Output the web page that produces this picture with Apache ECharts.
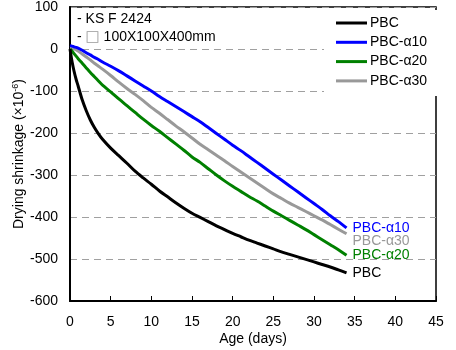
<!DOCTYPE html>
<html>
<head>
<meta charset="utf-8">
<script src="https://cdn.jsdelivr.net/npm/echarts@6/dist/echarts.min.js"></script>
<style>html,body{margin:0;padding:0;background:#fff}#c{width:456px;height:350px}</style>
</head>
<body>
<div id="c"></div>
<script>
var days   = [0,0.25,0.5,0.75,1,1.5,2,2.5,3,3.5,4,5,6,7,8,9,10,11,12,13,14,15,16,17,18,19,20,21,22,23,24,25,26,27,28,29,30,31,32,33,34];
var pbc    = [0,-30,-53,-72,-88,-121,-147,-169,-187,-202,-215,-236,-254,-272,-291,-307,-322,-338,-352,-366,-379,-391,-401,-411,-421,-430,-439,-447,-455,-462,-469,-476,-483,-489,-495,-501,-507,-513,-519,-526,-533];
var pbcA10 = [8,7,5,4,2,-3,-9,-14,-20,-25,-31,-41,-52,-64,-76,-88,-100,-113,-125,-137,-149,-161,-173,-187,-201,-215,-229,-242,-256,-270,-284,-298,-312,-326,-340,-354,-368,-382,-397,-411,-426];
var pbcA20 = [0,-5,-11,-17,-23,-34,-45,-56,-66,-76,-86,-102,-119,-135,-151,-167,-182,-196,-211,-226,-241,-257,-270,-285,-300,-314,-327,-339,-351,-362,-374,-386,-397,-408,-419,-430,-442,-454,-466,-478,-491];
var pbcA30 = [3,3,1,-2,-5,-12,-19,-26,-34,-41,-48,-63,-79,-94,-108,-123,-139,-153,-168,-183,-197,-212,-227,-240,-253,-266,-280,-293,-306,-319,-332,-345,-356,-367,-377,-387,-397,-407,-418,-429,-440];
var seriesNames = ['PBC','PBC-α10','PBC-α20','PBC-α30'];
var seriesColors = ['#000000','#0000ff','#008000','#999999'];
var allValues = [pbc, pbcA10, pbcA20, pbcA30];
var xTicks = {min:0, max:45, interval:5};
var yTicks = {min:-600, max:100, interval:100};
var note1 = '- KS F 2424';
var note2 = '100X100X400mm';

function pairs(v){ return days.map(function(d,i){ return [d, v[i]]; }); }

var FONT = 'Liberation Sans, Arial, sans-serif';
var labelOffsets = [[0,0],[0,0],[0,0],[0,7]];
var series = seriesNames.map(function(n,i){
  return {
    name: n, type: 'line', data: pairs(allValues[i]),
    symbol: 'none', smooth: 0.3,
    lineStyle: {color: seriesColors[i], width: 3},
    itemStyle: {color: seriesColors[i]},
    endLabel: {show: true, formatter: '{a}', color: seriesColors[i], fontSize: 14, fontFamily: FONT, distance: 6, offset: labelOffsets[i]},
    emphasis: {disabled: true},
    z: 10 - i
  };
});

var chart = echarts.init(document.getElementById('c'), null, {renderer: 'canvas'});
chart.setOption({
  animation: false,
  backgroundColor: '#fff',
  textStyle: {fontFamily: FONT},
  grid: {left: 70, right: 20, top: 7, bottom: 49, show: true, borderColor: '#000', borderWidth: 1.5, containLabel: false, outerBoundsMode: 'none'},
  legend: {
    show: true, orient: 'vertical', left: 324, top: 10,
    padding: [6, 10, 8, 12], backgroundColor: '#fff',
    itemWidth: 31, itemHeight: 14, itemGap: 5.3,
    selectedMode: false,
    textStyle: {fontSize: 14, color: '#000', fontFamily: FONT, padding: [0,0,0,-2]},
    data: seriesNames.map(function(n){ return {name: n, icon: 'path://M0,0 L31,0 L31,3 L0,3 Z'}; })
  },
  xAxis: {
    type: 'value', min: xTicks.min, max: xTicks.max, interval: xTicks.interval,
    name: 'Age (days)', nameLocation: 'middle', nameGap: 31, nameMoveOverlap: false,
    nameTextStyle: {fontSize: 14, color: '#000', fontFamily: FONT},
    axisLine: {show: true, onZero: false, lineStyle: {color: '#000', width: 2}},
    axisTick: {show: true, inside: true, length: 5, lineStyle: {color: '#000', width: 1}},
    axisLabel: {fontSize: 14, color: '#000', margin: 14, fontFamily: FONT},
    splitLine: {show: false}
  },
  yAxis: {
    type: 'value', min: yTicks.min, max: yTicks.max, interval: yTicks.interval,
    name: 'Drying shrinkage (×10{sup|-6})', nameLocation: 'middle', nameGap: 43, nameRotate: 90, nameMoveOverlap: false,
    nameTextStyle: {fontSize: 14, color: '#000', fontFamily: FONT,
      rich: {sup: {fontSize: 9, color: '#000', fontFamily: FONT, padding: [0,0,7,0]}}},
    axisLine: {show: true, onZero: false, lineStyle: {color: '#000', width: 2}},
    axisTick: {show: false},
    axisLabel: {fontSize: 14, color: '#000', margin: 12, fontFamily: FONT},
    splitLine: {show: true, lineStyle: {color: '#a0a0a0', width: 1, type: [7,5]}}
  },
  graphic: [
    {type: 'text', left: 77, top: 12, style: {text: note1, fontSize: 14, fill: '#000', fontFamily: FONT}},
    {type: 'text', left: 77, top: 30, style: {text: '- {box|□} ' + note2, fontSize: 14, fill: '#000', fontFamily: FONT,
      rich: {box: {fontSize: 15, fill: '#999', color: '#999', fontFamily: 'DejaVu Sans'}}}}
  ],
  series: series
});
</script>
</body>
</html>
